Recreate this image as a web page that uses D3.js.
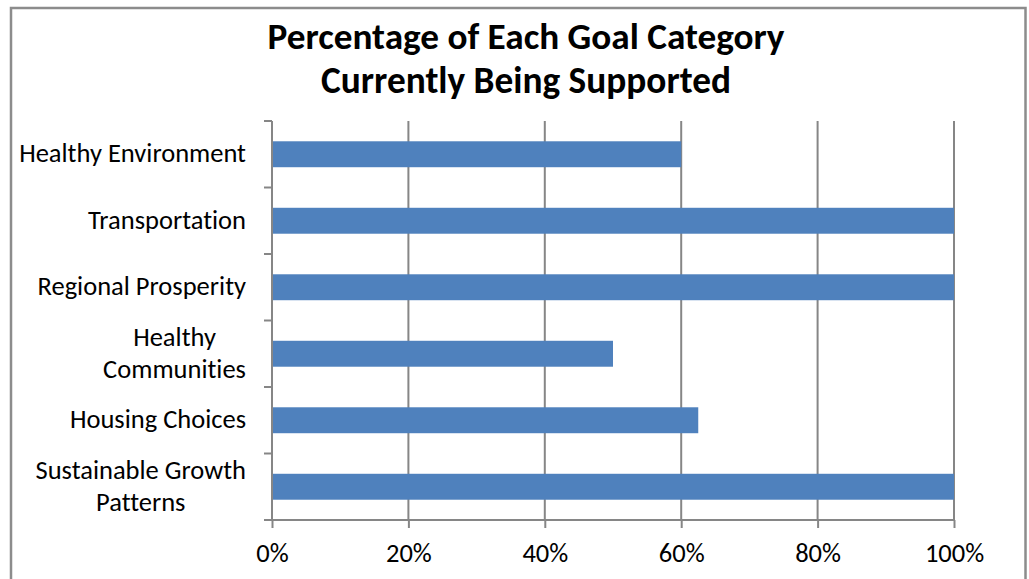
<!DOCTYPE html>
<html>
<head>
<meta charset="utf-8">
<script src="https://cdn.jsdelivr.net/npm/d3@7"></script>
<style>
  html, body { margin: 0; padding: 0; background: #fff; }
  svg { display: block; }
  text { font-variant-ligatures: none; font-feature-settings: "liga" 0, "clig" 0; }
</style>
</head>
<body>
<svg id="chart" width="1029" height="579"></svg>
<script>
// ---- data ----
const categories = ["Healthy Environment", "Transportation", "Regional Prosperity", "Healthy Communities", "Housing Choices", "Sustainable Growth Patterns"];
const categoryLabels = [["Healthy Environment"], ["Transportation"], ["Regional Prosperity"], ["Healthy", "Communities"], ["Housing Choices"], ["Sustainable Growth", "Patterns"]];
const values = [0.60, 1.00, 1.00, 0.50, 0.625, 1.00];
const xTicks = [0, 0.2, 0.4, 0.6, 0.8, 1.0];
const titleLines = ["Percentage of Each Goal Category", "Currently Being Supported"];

// ---- layout ----
const W = 1029, H = 579;
const plot = { left: 272, right: 954, top: 121, bottom: 520 };
const FONT = "Carlito, Calibri, Lato, 'Open Sans', sans-serif";
const gridColor = "#868686";
const barColor = "#4F81BD";

const svg = d3.select("#chart");

// outer border
svg.append("rect")
  .attr("x", 11).attr("y", 8)
  .attr("width", 1014.5).attr("height", 600)
  .attr("fill", "none").attr("stroke", "#8c8c8c").attr("stroke-width", 2.5);

const x = d3.scaleLinear().domain([0, 1]).range([plot.left, plot.right]);
const y = d3.scaleBand().domain(categories).range([plot.top, plot.bottom])
  .paddingInner(0.61).paddingOuter(0.305);

// helper: fit text width by scaling font size
function fitText(sel, targetWidth) {
  const node = sel.node();
  const fs = parseFloat(sel.attr("font-size"));
  const w = node.getComputedTextLength();
  if (w > 0) sel.attr("font-size", fs * targetWidth / w);
  return sel;
}

// title
const titleWidths = [517, 410];
const titleBaselines = [49, 93];
titleLines.forEach((t, i) => {
  const tt = svg.append("text")
    .attr("x", 526).attr("y", titleBaselines[i])
    .attr("text-anchor", "middle")
    .attr("font-family", FONT).attr("font-weight", "bold")
    .attr("font-size", 34).attr("fill", "#000")
    .text(t);
  fitText(tt, titleWidths[i]);
});

// measure label font size: "Healthy Environment" ~227px wide
const probe = svg.append("text").attr("font-family", FONT).attr("font-size", 22).text("Healthy Environment");
const labelFs = 22 * 227 / probe.node().getComputedTextLength();
probe.remove();

// vertical gridlines
svg.append("g").selectAll("line")
  .data(xTicks.filter(d => d > 0))
  .join("line")
  .attr("x1", d => x(d)).attr("x2", d => x(d))
  .attr("y1", plot.top).attr("y2", plot.bottom)
  .attr("stroke", gridColor).attr("stroke-width", 2);

// bars
svg.append("g").selectAll("rect")
  .data(categories)
  .join("rect")
  .attr("x", x(0))
  .attr("y", d => y(d))
  .attr("width", (d, i) => x(values[i]) - x(0))
  .attr("height", y.bandwidth())
  .attr("fill", barColor);

// bottom axis line + ticks
const xAxis = d3.axisBottom(x).tickValues(xTicks).tickSize(8).tickFormat(d3.format(".0%"));
const gx = svg.append("g").attr("transform", `translate(0,${plot.bottom})`).call(xAxis);
gx.select(".domain").attr("stroke", gridColor).attr("stroke-width", 2).attr("d", `M${plot.left},0H${plot.right}`);
gx.selectAll(".tick line").attr("stroke", gridColor).attr("stroke-width", 2);
gx.selectAll(".tick text")
  .attr("font-family", FONT).attr("font-size", labelFs).attr("fill", "#000")
  .attr("y", 0).attr("dy", 0)
  .attr("transform", "translate(0,42)");

// left axis line
svg.append("line")
  .attr("x1", plot.left).attr("x2", plot.left)
  .attr("y1", plot.top).attr("y2", plot.bottom)
  .attr("stroke", gridColor).attr("stroke-width", 2);

// category boundary ticks
const boundaries = categories.map(c => y(c) - y.step() * y.paddingInner() / 2).concat([plot.bottom]);
svg.append("g").selectAll("line")
  .data(boundaries)
  .join("line")
  .attr("x1", plot.left - 8).attr("x2", plot.left)
  .attr("y1", d => d).attr("y2", d => d)
  .attr("stroke", gridColor).attr("stroke-width", 2);

// category labels
const lineGap = 32;
const labelG = svg.append("g");
categories.forEach((c, i) => {
  const lines = categoryLabels[i];
  const cy = y(c) + y.bandwidth() / 2;
  const n = lines.length;
  const g = labelG.append("g");
  const texts = lines.map((ln, j) => g.append("text")
    .attr("font-family", FONT).attr("font-size", labelFs).attr("fill", "#000")
    .attr("y", cy + 8 + (j - (n - 1) / 2) * lineGap)
    .text(ln));
  const widths = texts.map(t => t.node().getComputedTextLength());
  const maxW = d3.max(widths);
  const rightEdge = 246;
  const centerX = rightEdge - maxW / 2;
  texts.forEach(t => t.attr("x", centerX).attr("text-anchor", "middle"));
});
</script>
</body>
</html>
